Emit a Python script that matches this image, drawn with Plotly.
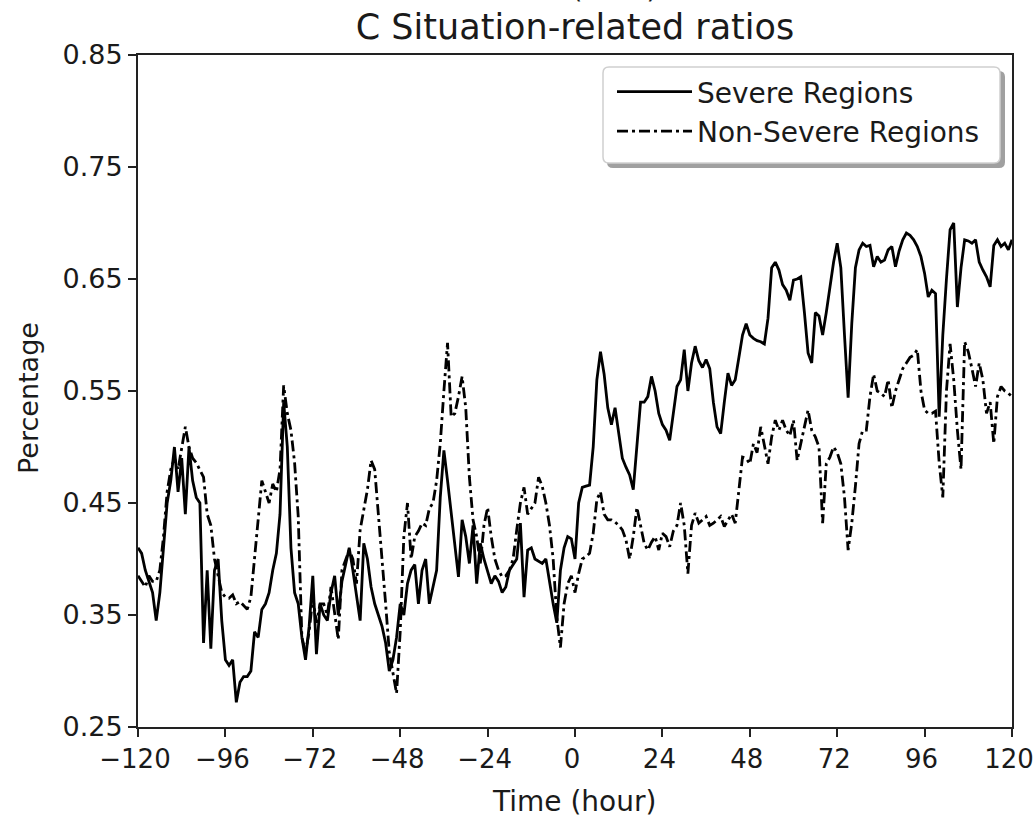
import plotly.graph_objects as go

# Hours relative to the event, one sample per hour
hours = list(range(-120, 121))

# Ratio of situation-related posts, severe regions
severe = [
    0.410, 0.405, 0.390, 0.380, 0.370, 0.345, 0.370, 0.410, 0.450, 0.470,  # -120..-111
    0.500, 0.460, 0.490, 0.440, 0.500, 0.470, 0.455, 0.450, 0.325, 0.390,  # -110..-101
    0.320, 0.390, 0.400, 0.345, 0.310, 0.305, 0.310, 0.272, 0.290, 0.295,  # -100..-91
    0.295, 0.300, 0.335, 0.330, 0.355, 0.360, 0.370, 0.390, 0.405, 0.440,  # -90..-81
    0.540, 0.500, 0.410, 0.370, 0.360, 0.330, 0.310, 0.340, 0.385, 0.315,  # -80..-71
    0.360, 0.350, 0.345, 0.370, 0.385, 0.350, 0.380, 0.395, 0.410, 0.390,  # -70..-61
    0.365, 0.345, 0.414, 0.400, 0.375, 0.360, 0.350, 0.340, 0.325, 0.300,  # -60..-51
    0.310, 0.330, 0.360, 0.350, 0.378, 0.390, 0.395, 0.360, 0.390, 0.400,  # -50..-41
    0.360, 0.375, 0.390, 0.455, 0.497, 0.470, 0.440, 0.414, 0.384, 0.435,  # -40..-31
    0.420, 0.396, 0.430, 0.378, 0.414, 0.400, 0.390, 0.378, 0.385, 0.380,  # -30..-21
    0.370, 0.375, 0.390, 0.395, 0.400, 0.432, 0.366, 0.408, 0.410, 0.400,  # -20..-11
    0.398, 0.396, 0.400, 0.378, 0.360, 0.343, 0.390, 0.410, 0.420, 0.418,  # -10..-1
    0.400, 0.450, 0.464, 0.465, 0.466, 0.500, 0.560, 0.585, 0.565, 0.535,  # 0..9
    0.520, 0.535, 0.510, 0.490, 0.482, 0.475, 0.462, 0.500, 0.540, 0.540,  # 10..19
    0.545, 0.563, 0.550, 0.530, 0.520, 0.515, 0.506, 0.530, 0.554, 0.560,  # 20..29
    0.587, 0.550, 0.575, 0.590, 0.577, 0.571, 0.578, 0.570, 0.540, 0.518,  # 30..39
    0.512, 0.540, 0.566, 0.555, 0.560, 0.580, 0.600, 0.610, 0.600, 0.597,  # 40..49
    0.595, 0.594, 0.592, 0.615, 0.660, 0.665, 0.658, 0.645, 0.640, 0.631,  # 50..59
    0.649, 0.650, 0.652, 0.620, 0.584, 0.575, 0.620, 0.617, 0.600, 0.620,  # 60..69
    0.643, 0.665, 0.682, 0.660, 0.600, 0.544, 0.610, 0.660, 0.676, 0.682,  # 70..79
    0.679, 0.680, 0.661, 0.670, 0.665, 0.667, 0.676, 0.679, 0.661, 0.675,  # 80..89
    0.685, 0.691, 0.689, 0.685, 0.679, 0.670, 0.655, 0.634, 0.640, 0.637,  # 90..99
    0.527, 0.600, 0.650, 0.694, 0.700, 0.625, 0.660, 0.685, 0.684, 0.682,  # 100..109
    0.685, 0.665, 0.658, 0.652, 0.643, 0.680, 0.685, 0.679, 0.682, 0.676,  # 110..119
    0.685,                                                                  # 120
]

# Ratio of situation-related posts, non-severe regions
non_severe = [
    0.385, 0.380, 0.375, 0.385, 0.380, 0.380, 0.390, 0.420, 0.460, 0.480,  # -120..-111
    0.490, 0.480, 0.500, 0.518, 0.500, 0.490, 0.486, 0.480, 0.473, 0.440,  # -110..-101
    0.430, 0.400, 0.385, 0.370, 0.366, 0.365, 0.368, 0.360, 0.362, 0.358,  # -100..-91
    0.355, 0.366, 0.400, 0.438, 0.470, 0.460, 0.450, 0.467, 0.460, 0.480,  # -90..-81
    0.555, 0.530, 0.515, 0.486, 0.438, 0.330, 0.317, 0.335, 0.366, 0.343,  # -80..-71
    0.360, 0.360, 0.350, 0.375, 0.350, 0.328, 0.390, 0.400, 0.408, 0.400,  # -70..-61
    0.378, 0.426, 0.445, 0.462, 0.488, 0.480, 0.440, 0.402, 0.360, 0.317,  # -60..-51
    0.298, 0.280, 0.335, 0.420, 0.450, 0.400, 0.420, 0.425, 0.432, 0.430,  # -50..-41
    0.445, 0.450, 0.470, 0.503, 0.550, 0.593, 0.527, 0.530, 0.545, 0.563,  # -40..-31
    0.535, 0.473, 0.435, 0.420, 0.396, 0.430, 0.446, 0.420, 0.400, 0.390,  # -30..-21
    0.384, 0.385, 0.390, 0.400, 0.426, 0.450, 0.464, 0.440, 0.445, 0.450,  # -20..-11
    0.473, 0.465, 0.450, 0.430, 0.400, 0.348, 0.321, 0.360, 0.378, 0.385,  # -10..-1
    0.370, 0.387, 0.400, 0.402, 0.405, 0.423, 0.453, 0.460, 0.440, 0.435,  # 0..9
    0.435, 0.433, 0.430, 0.426, 0.417, 0.400, 0.420, 0.446, 0.430, 0.414,  # 10..19
    0.408, 0.415, 0.420, 0.408, 0.423, 0.420, 0.411, 0.425, 0.430, 0.450,  # 20..29
    0.430, 0.387, 0.430, 0.441, 0.432, 0.435, 0.438, 0.430, 0.432, 0.435,  # 30..39
    0.438, 0.429, 0.435, 0.440, 0.432, 0.459, 0.491, 0.490, 0.485, 0.503,  # 40..49
    0.495, 0.518, 0.500, 0.485, 0.509, 0.524, 0.515, 0.524, 0.515, 0.510,  # 50..59
    0.524, 0.488, 0.503, 0.518, 0.533, 0.515, 0.509, 0.500, 0.432, 0.485,  # 60..69
    0.491, 0.500, 0.495, 0.485, 0.455, 0.408, 0.432, 0.465, 0.503, 0.515,  # 70..79
    0.515, 0.545, 0.565, 0.550, 0.548, 0.545, 0.560, 0.535, 0.550, 0.560,  # 80..89
    0.570, 0.575, 0.580, 0.582, 0.587, 0.550, 0.533, 0.530, 0.530, 0.532,  # 90..99
    0.486, 0.455, 0.550, 0.592, 0.560, 0.515, 0.480, 0.594, 0.585, 0.570,  # 100..109
    0.554, 0.575, 0.560, 0.530, 0.540, 0.503, 0.545, 0.554, 0.550, 0.548,  # 110..119
    0.545,                                                                  # 120
]

x_ticks = [-120, -96, -72, -48, -24, 0, 24, 48, 72, 96, 120]
x_tick_text = ["\u2212120", "\u221296", "\u221272", "\u221248", "\u221224",
               "0", "24", "48", "72", "96", "120"]
y_ticks = [0.25, 0.35, 0.45, 0.55, 0.65, 0.75, 0.85]
y_tick_text = ["0.25", "0.35", "0.45", "0.55", "0.65", "0.75", "0.85"]

FONT = "DejaVu Sans"
INK = "#1a1a1a"

# Plot-area geometry in pixels, used to place the legend frame and labels
W, H = 1035, 817
ML, MR, MT, MB = 138, 23, 55, 90
PW, PH = W - ML - MR, H - MT - MB


def px(xp):
    return (xp - ML) / PW


def py(yp):
    return (H - MB - yp) / PH


def rounded_rect(x0, y0, x1, y1, r):
    """SVG path (paper coords) for a rectangle with rounded corners; pixel inputs."""
    rx, ry = r / PW, r / PH
    a, b, c, d = px(x0), py(y1), px(x1), py(y0)   # left, bottom, right, top
    return (f"M{a + rx},{d} L{c - rx},{d} Q{c},{d} {c},{d - ry} "
            f"L{c},{b + ry} Q{c},{b} {c - rx},{b} L{a + rx},{b} "
            f"Q{a},{b} {a},{b + ry} L{a},{d - ry} Q{a},{d} {a + rx},{d} Z")


fig = go.Figure()
fig.add_trace(go.Scatter(
    x=hours, y=severe, mode="lines", name="Severe Regions",
    line=dict(color="#000000", width=2.8),
))
fig.add_trace(go.Scatter(
    x=hours, y=non_severe, mode="lines", name="Non-Severe Regions",
    line=dict(color="#000000", width=2.8, dash="11px,4px,3px,4px"),
))

axis_common = dict(
    showline=True, mirror=True, linecolor="#222222", linewidth=2,
    ticks="outside", ticklen=8, tickwidth=2, tickcolor="#222222",
    showgrid=False, zeroline=False, automargin=False,
    ticklabeloverflow="allow",
)

fig.update_layout(
    width=W, height=H,
    margin=dict(l=ML, r=MR, t=MT, b=MB, autoexpand=False),
    paper_bgcolor="white", plot_bgcolor="white",
    font=dict(family=FONT, color=INK),
    title=dict(
        text="C Situation-related ratios",
        font=dict(family=FONT, size=35, color=INK),
        x=0.5, xref="paper", xanchor="center",
        y=1 - 27 / H, yanchor="middle",
    ),
    xaxis=dict(range=[-120, 120], tickvals=x_ticks, ticktext=x_tick_text,
               tickfont=dict(family=FONT, size=26, color=INK),
               ticklabelshift=-3, **axis_common),
    yaxis=dict(range=[0.25, 0.85], tickvals=y_ticks, ticktext=y_tick_text,
               tickfont=dict(family=FONT, size=27, color=INK),
               **axis_common),
    legend=dict(
        x=px(612), xanchor="left", y=py(67), yanchor="top",
        bgcolor="rgba(0,0,0,0)", borderwidth=0,
        font=dict(family=FONT, size=28, color=INK),
        itemwidth=75, tracegroupgap=0,
    ),
    showlegend=True,
)

# Legend frame: drop shadow, then a white rounded box with a light border
fig.add_shape(
    type="path", xref="paper", yref="paper",
    path=rounded_rect(607, 71, 1005, 168, 6),
    fillcolor="#a0a0a0", line=dict(width=0), layer="above",
)
fig.add_shape(
    type="path", xref="paper", yref="paper",
    path=rounded_rect(603, 67, 1000, 163, 6),
    fillcolor="white", line=dict(color="#cfcfcf", width=1.5), layer="above",
)

# Axis titles
fig.add_annotation(
    text="Time (hour)", xref="paper", yref="paper",
    x=px(574), y=py(801), xanchor="center", yanchor="middle",
    showarrow=False, font=dict(family=FONT, size=28, color=INK),
)
fig.add_annotation(
    text="Percentage", xref="paper", yref="paper", textangle=-90,
    x=px(28), y=py(398), xanchor="center", yanchor="middle",
    showarrow=False, font=dict(family=FONT, size=27, color=INK),
)

# Axis label of the panel above, cut off by the top edge
fig.add_annotation(
    text="Time (hour)", xref="paper", yref="paper",
    x=0.5, y=py(7), xanchor="center", yanchor="bottom",
    showarrow=False, font=dict(family=FONT, size=28, color=INK),
)

fig.write_html("out.html")
